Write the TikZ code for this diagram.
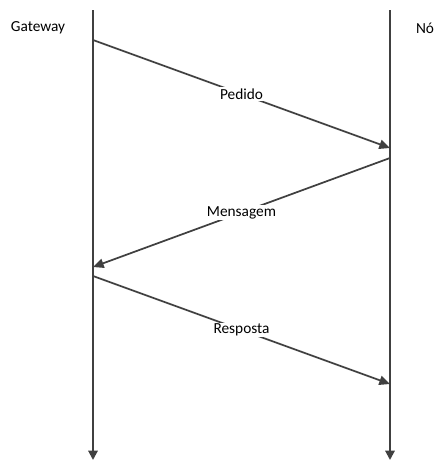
\documentclass[tikz,border=0pt]{standalone}
\usepackage{fontspec}
\setmainfont{Carlito}
\usetikzlibrary{positioning,arrows.meta}
\definecolor{linegray}{HTML}{404040}
\begin{document}
\begin{tikzpicture}
  [x=0.75pt,y=-0.75pt,
   lifeline/.style={draw=linegray,line width=1.5pt,-{Triangle[length=7pt,width=7pt]}},
   message/.style={draw=linegray,line width=1.3pt,-{Triangle[length=8pt,width=7pt]}},
   msglabel/.style={fill=white,inner sep=1pt,font=\fontsize{11.5}{13}\selectfont},
   actor/.style={font=\fontsize{11.5}{13}\selectfont}]
  \useasboundingbox (0,0) rectangle (437,461);
  \node[actor] (gateway) at (38,28) {Gateway};
  \node[actor] (no)      at (425,28) {Nó};

  \coordinate (gwtop) at (93,10);
  \coordinate (gwbot) at (93,460);
  \coordinate (notop) at (390,10);
  \coordinate (nobot) at (390,460);
  \draw[lifeline] (gwtop) -- (gwbot);
  \draw[lifeline] (notop) -- (nobot);

  \coordinate (req)  at (93,40);
  \coordinate (reqe) at (390,148);
  \coordinate (msg)  at (390,158);
  \coordinate (msge) at (93,267);
  \coordinate (res)  at (93,276);
  \coordinate (rese) at (390,384);

  \draw[message] (req) -- node[msglabel] (pedido) {Pedido} (reqe);
  \draw[message] (msg) -- node[msglabel] (mensagem) {Mensagem} (msge);
  \draw[message] (res) -- node[msglabel] (resposta) {Resposta} (rese);
\end{tikzpicture}
\end{document}
